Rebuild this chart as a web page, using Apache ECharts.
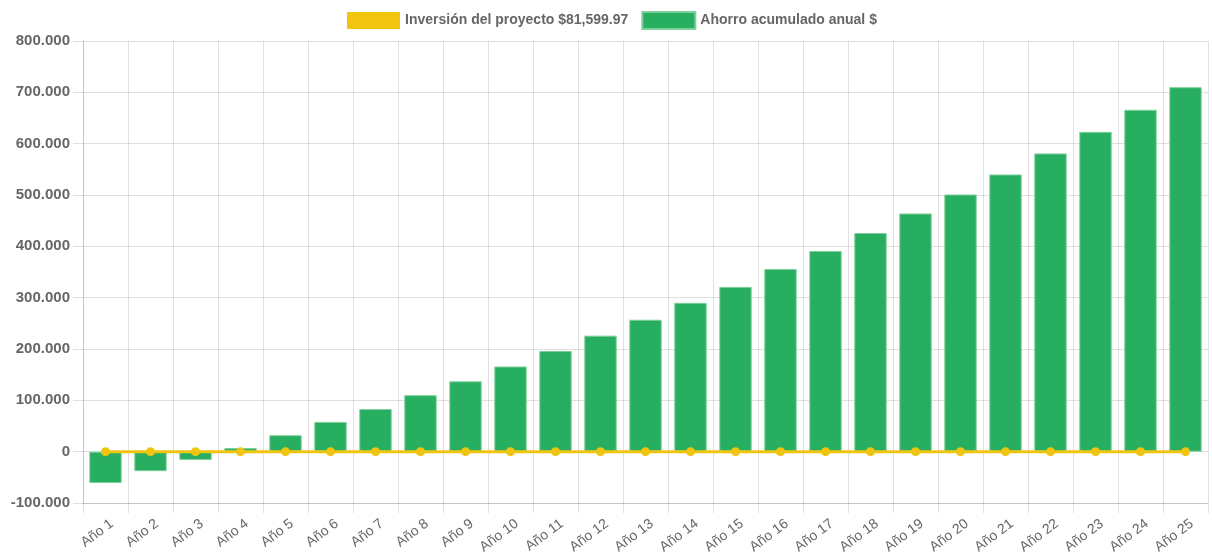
<!DOCTYPE html>
<html>
<head>
<meta charset="utf-8">
<script src="https://cdn.jsdelivr.net/npm/echarts@6/dist/echarts.min.js"></script>
<style>
  html, body { margin: 0; padding: 0; background: #fff; }
  #chart { width: 1212px; height: 555px; }
</style>
</head>
<body>
<div id="chart"></div>
<script>
// data
var years = [];
for (var i = 1; i <= 25; i++) years.push('Año ' + i);

var inversion = [0, 0, 0, 0, 0, 0, 0, 0, 0, 0, 0, 0, 0, 0, 0, 0, 0, 0, 0, 0, 0, 0, 0, 0, 0];

var ahorro = [-61000, -38000, -16000, 7000, 32000, 58000, 83000, 110000, 137000, 166000,
              196000, 226000, 257000, 290000, 321000, 356000, 391000, 426000, 464000, 501000,
              540000, 581000, 623000, 666000, 710000];

var yTicks = { min: -100000, max: 800000, step: 100000 };

function fmt(v) {
  var s = Math.abs(v).toString().replace(/\B(?=(\d{3})+(?!\d))/g, '.');
  return (v < 0 ? '-' : '') + s;
}

var gridColor = 'rgba(0,0,0,0.12)';
var myChart = echarts.init(document.getElementById('chart'));

myChart.setOption({
  animation: false,
  legend: {
    top: 11,
    left: 347,
    padding: 0,
    itemWidth: 53,
    itemHeight: 17,
    itemGap: 13,
    textStyle: { color: '#666', fontSize: 14, fontWeight: 'bold', fontFamily: 'Liberation Sans, Arial' },
    data: [
      { name: 'Inversión del proyecto $81,599.97', icon: 'rect', itemStyle: { color: '#f1c40f' } },
      { name: 'Ahorro acumulado anual $', icon: 'rect', itemStyle: { color: '#27ae60' } }
    ]
  },
  grid: { left: 83, right: 4, top: 41, bottom: 52, containLabel: false, outerBoundsMode: 'none' },
  xAxis: {
    type: 'category',
    data: years,
    boundaryGap: true,
    axisLine: { show: true, onZero: false, lineStyle: { color: gridColor } },
    axisTick: { show: true, interval: 0, length: 10, lineStyle: { color: gridColor } },
    splitLine: { show: true, interval: 0, lineStyle: { color: gridColor } },
    axisLabel: {
      interval: 0, rotate: 37, color: '#666', fontSize: 14, margin: 24,
      padding: [0, -8, 0, 0],
      fontFamily: 'Liberation Sans, Arial'
    }
  },
  yAxis: {
    type: 'value',
    min: yTicks.min,
    max: yTicks.max,
    interval: yTicks.step,
    axisLine: { show: true, lineStyle: { color: gridColor } },
    axisTick: { show: true, length: 10, lineStyle: { color: gridColor } },
    splitLine: { show: true, lineStyle: { color: gridColor } },
    axisLabel: {
      color: '#666', fontSize: 15, fontWeight: 'bold', margin: 13,
      fontFamily: 'Liberation Sans, Arial',
      formatter: fmt
    }
  },
  series: [
    {
      name: 'Inversión del proyecto $81,599.97',
      type: 'line',
      data: inversion,
      z: 5,
      symbol: 'circle',
      symbolSize: 9,
      itemStyle: { color: '#f1c40f' },
      lineStyle: { color: '#f1c40f', width: 3 }
    },
    {
      name: 'Ahorro acumulado anual $',
      type: 'bar',
      data: ahorro,
      barWidth: '72%',
      itemStyle: { color: '#27ae60', borderColor: '#7fcf9c', borderWidth: 1 }
    }
  ]
});
</script>
</body>
</html>
